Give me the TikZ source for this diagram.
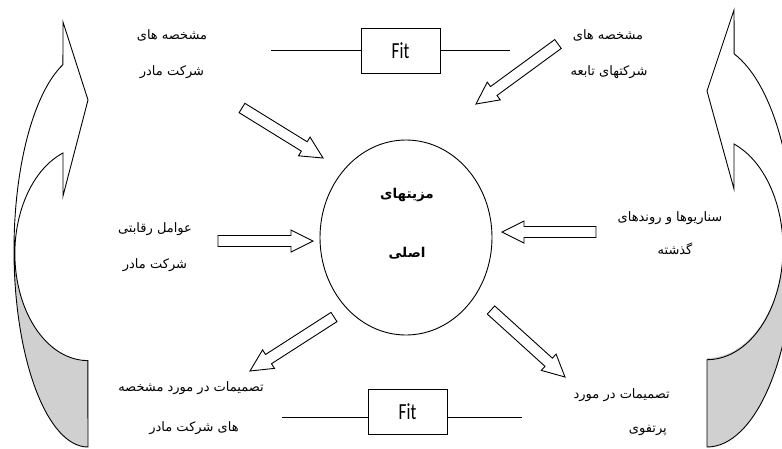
\documentclass[tikz,border=0pt]{standalone}
\usepackage{fontspec}
\usepackage{graphicx}
\setmainfont{Carlito}
\newfontfamily\arabicfont[Script=Arabic]{DejaVu Sans}
\TeXXeTstate=1
\usetikzlibrary{calc,shapes.geometric}
\definecolor{bandgray}{RGB}{208,208,208}
\newcommand\fa[1]{{\arabicfont\beginR #1\endR}}
\newcommand\blockarrow[2]{%
  \coordinate (hb) at ($(#2)!22pt!(#1)$);
  \draw[barrowline] ($(#1)!5.5pt!90:(#2)$) -- ($(hb)!5.5pt!90:(#2)$) -- ($(hb)!11pt!90:(#2)$) -- (#2)
    -- ($(hb)!11pt!-90:(#2)$) -- ($(hb)!5.5pt!-90:(#2)$) -- ($(#1)!5.5pt!-90:(#2)$) -- cycle;}
\tikzset{
  outline/.style={draw=black, line width=0.9pt, line join=miter},
  barrowline/.style={draw=black, line width=0.9pt, fill=white, line join=miter},
  fatext/.style={inner sep=0pt, font=\fontsize{13}{15}\selectfont},
  coretext/.style={inner sep=0pt, font=\fontsize{13.5}{16}\selectfont\bfseries},
  fitbox/.style={draw=black, line width=0.8pt, minimum width=79pt, minimum height=45pt, inner sep=0pt, font=\fontsize{23}{26}\selectfont},
  joinline/.style={draw=black, line width=0.8pt}
}
\begin{document}
\begin{tikzpicture}[x=1pt,y=-1pt]
\useasboundingbox (0,0) rectangle (782,448);
\clip (0,0) rectangle (782,448);
% left curved band
\fill[bandgray] (15,254) arc[start angle=180, end angle=90, x radius=73, y radius=107]
  -- (88,447) arc[start angle=90, end angle=180, x radius=74, y radius=197] -- cycle;
\draw[outline] (63,153) arc[start angle=250.1, end angle=90, x radius=73, y radius=107]
  -- (88,447) arc[start angle=90, end angle=250.2, x radius=74, y radius=197]
  -- (63,22) -- (88,100) -- (63,196) -- cycle;
% right curved band
\fill[bandgray] (783,246.5) arc[start angle=0, end angle=90, x radius=76, y radius=111.5]
  -- (707,447) arc[start angle=90, end angle=0, x radius=87, y radius=201.6] -- cycle;
\draw[outline] (734,144) arc[start angle=-69.2, end angle=90, x radius=76, y radius=111.5]
  -- (707,447) arc[start angle=90, end angle=-71.8, x radius=87, y radius=201.6]
  -- (734,10) -- (707,91) -- (734,189) -- cycle;
% core ellipse
\node[ellipse, draw=black, line width=0.9pt, minimum width=172pt, minimum height=195pt, inner sep=0pt] (core) at (406,237.5) {};
\node[coretext] (c1) at (407,195) {\fa{مزیتهای}};
\node[coretext] (c2) at (407,253) {\fa{اصلی}};
% Fit boxes
\node[fitbox] (fit1) at (400.5,51) {\scalebox{0.75}[1]{Fit}};
\coordinate (f1l) at (271,50);
\coordinate (f1r) at (510,50);
\draw[joinline] (f1l) -- (f1l -| fit1.west);
\draw[joinline] (f1r -| fit1.east) -- (f1r);
\node[fitbox] (fit2) at (407.5,412) {\scalebox{0.75}[1]{Fit}};
\coordinate (f2l) at (282,417);
\coordinate (f2r) at (522,417);
\draw[joinline] (f2l) -- (f2l -| fit2.west);
\draw[joinline] (f2r -| fit2.east) -- (f2r);
% labels
\node[fatext] (tl1) at (172,35) {\fa{مشخصه های}};
\node[fatext] (tl2) at (172,72) {\fa{شرکت مادر}};
\node[fatext] (tr1) at (608,35) {\fa{مشخصه های}};
\node[fatext] (tr2) at (609,72) {\fa{شرکتهای تابعه}};
\node[fatext] (ml1) at (155,229) {\fa{عوامل رقابتی}};
\node[fatext] (ml2) at (155,265) {\fa{شرکت مادر}};
\node[fatext] (mr1) at (670,218) {\fa{سناریوها و روندهای}};
\node[fatext] (mr2) at (675,249) {\fa{گذشته}};
\node[fatext] (bl1) at (191,388) {\fa{تصمیمات در مورد مشخصه}};
\node[fatext] (bl2) at (194,428) {\fa{های شرکت مادر}};
\node[fatext, anchor=east] (br1) at (670,395) {\fa{تصمیمات در مورد}};
\node[fatext, anchor=east] (br2) at (667,430) {\fa{پرتفوی}};
% block arrows
\coordinate (a1s) at (242,108); \coordinate (a1e) at (323,158);
\coordinate (a2s) at (558,44);  \coordinate (a2e) at (476,104);
\coordinate (a3s) at (218,241); \coordinate (a3e) at (313,241);
\coordinate (a4s) at (596,232); \coordinate (a4e) at (502,232);
\coordinate (a5s) at (334,317); \coordinate (a5e) at (250,371);
\coordinate (a6s) at (491,310); \coordinate (a6e) at (565,377);
\blockarrow{a1s}{a1e}
\blockarrow{a2s}{a2e}
\blockarrow{a3s}{a3e}
\blockarrow{a4s}{a4e}
\blockarrow{a5s}{a5e}
\blockarrow{a6s}{a6e}
\end{tikzpicture}
\end{document}
